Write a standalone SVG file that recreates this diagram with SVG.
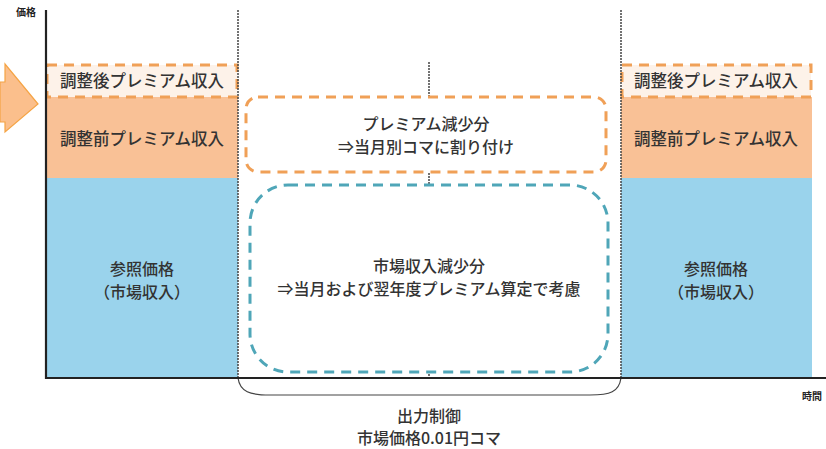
<svg xmlns="http://www.w3.org/2000/svg" width="826" height="449" viewBox="0 0 826 449">
<defs>
<style>
text{font-family:"Noto Sans CJK JP","Noto Sans",sans-serif;fill:#333;text-anchor:middle;font-size:16px;font-weight:500}
.lbl{font-size:16.5px}
.ax{font-size:10px;font-weight:bold;fill:#222}
.dot{stroke:#444;stroke-width:1.5;stroke-dasharray:2 1;fill:none}
.odash{stroke:#f0a057;stroke-width:3;stroke-dasharray:10 7;fill:none}
.bdash{stroke:#4fa6b8;stroke-width:3;stroke-dasharray:10 7;fill:none}
.orange{fill:#f9c196}
.blue{fill:#9ad3ec}
.after{fill:#fdf2e9}
</style>
</defs>
<rect width="826" height="449" fill="#fff"/>
<g id="arrow">
<polygon points="0,82 5,82 5,64 38,104 5,132 5,122 0,122" fill="#fbbf8c" stroke="#f5a445" stroke-width="1.2"/>
</g>
<g id="left-bar">
<rect class="blue" x="46" y="178" width="192" height="200"/>
<rect class="orange" x="46" y="97" width="192" height="81"/>
<rect class="after" x="47" y="65" width="190" height="32"/>
<rect class="odash" x="47" y="65" width="190" height="32"/>
<text class="lbl" x="142" y="87">調整後プレミアム収入</text>
<text class="lbl" x="142" y="145">調整前プレミアム収入</text>
<text x="142" y="275">参照価格</text>
<text x="142" y="298">（市場収入）</text>
</g>
<g id="right-bar">
<rect class="blue" x="621" y="178" width="191" height="200"/>
<rect class="orange" x="621" y="97" width="191" height="81"/>
<rect class="after" x="622" y="65" width="189" height="32"/>
<rect class="odash" x="622" y="65" width="189" height="32"/>
<text class="lbl" x="716" y="87">調整後プレミアム収入</text>
<text class="lbl" x="716" y="145">調整前プレミアム収入</text>
<text x="716" y="275">参照価格</text>
<text x="716" y="298">（市場収入）</text>
</g>
<g id="connectors">
<line class="dot" x1="238" y1="10" x2="238" y2="378"/>
<line class="dot" x1="621" y1="10" x2="621" y2="378"/>
<line class="dot" x1="429" y1="62" x2="429" y2="378"/>
<path d="M238,378 C240,392 250,395 270,395 L590,395 C610,395 619,392 621,378" fill="none" stroke="#444" stroke-width="1.2"/>
</g>
<g id="premium-decrease">
<rect x="246" y="97" width="360" height="75" rx="12" fill="#fff"/>
<rect class="odash" x="246" y="97" width="360" height="75" rx="12"/>
<text x="426" y="130">プレミアム減少分</text>
<text x="426" y="153">⇒当月別コマに割り付け</text>
</g>
<g id="market-decrease">
<rect x="250" y="185" width="358" height="187" rx="38" fill="#fff"/>
<rect class="bdash" x="250" y="185" width="358" height="187" rx="38"/>
<text x="429" y="272">市場収入減少分</text>
<text x="429" y="295">⇒当月および翌年度プレミアム算定で考慮</text>
</g>
<g id="axes">
<line x1="46" y1="10" x2="46" y2="379" stroke="#222" stroke-width="2.2"/>
<line x1="45" y1="378" x2="826" y2="378" stroke="#222" stroke-width="2.2"/>
<text class="ax" x="26" y="16">価格</text>
<text class="ax" x="812" y="400">時間</text>
</g>
<g id="caption">
<text x="429" y="422">出力制御</text>
<text x="429" y="444">市場価格0.01円コマ</text>
</g>
</svg>
